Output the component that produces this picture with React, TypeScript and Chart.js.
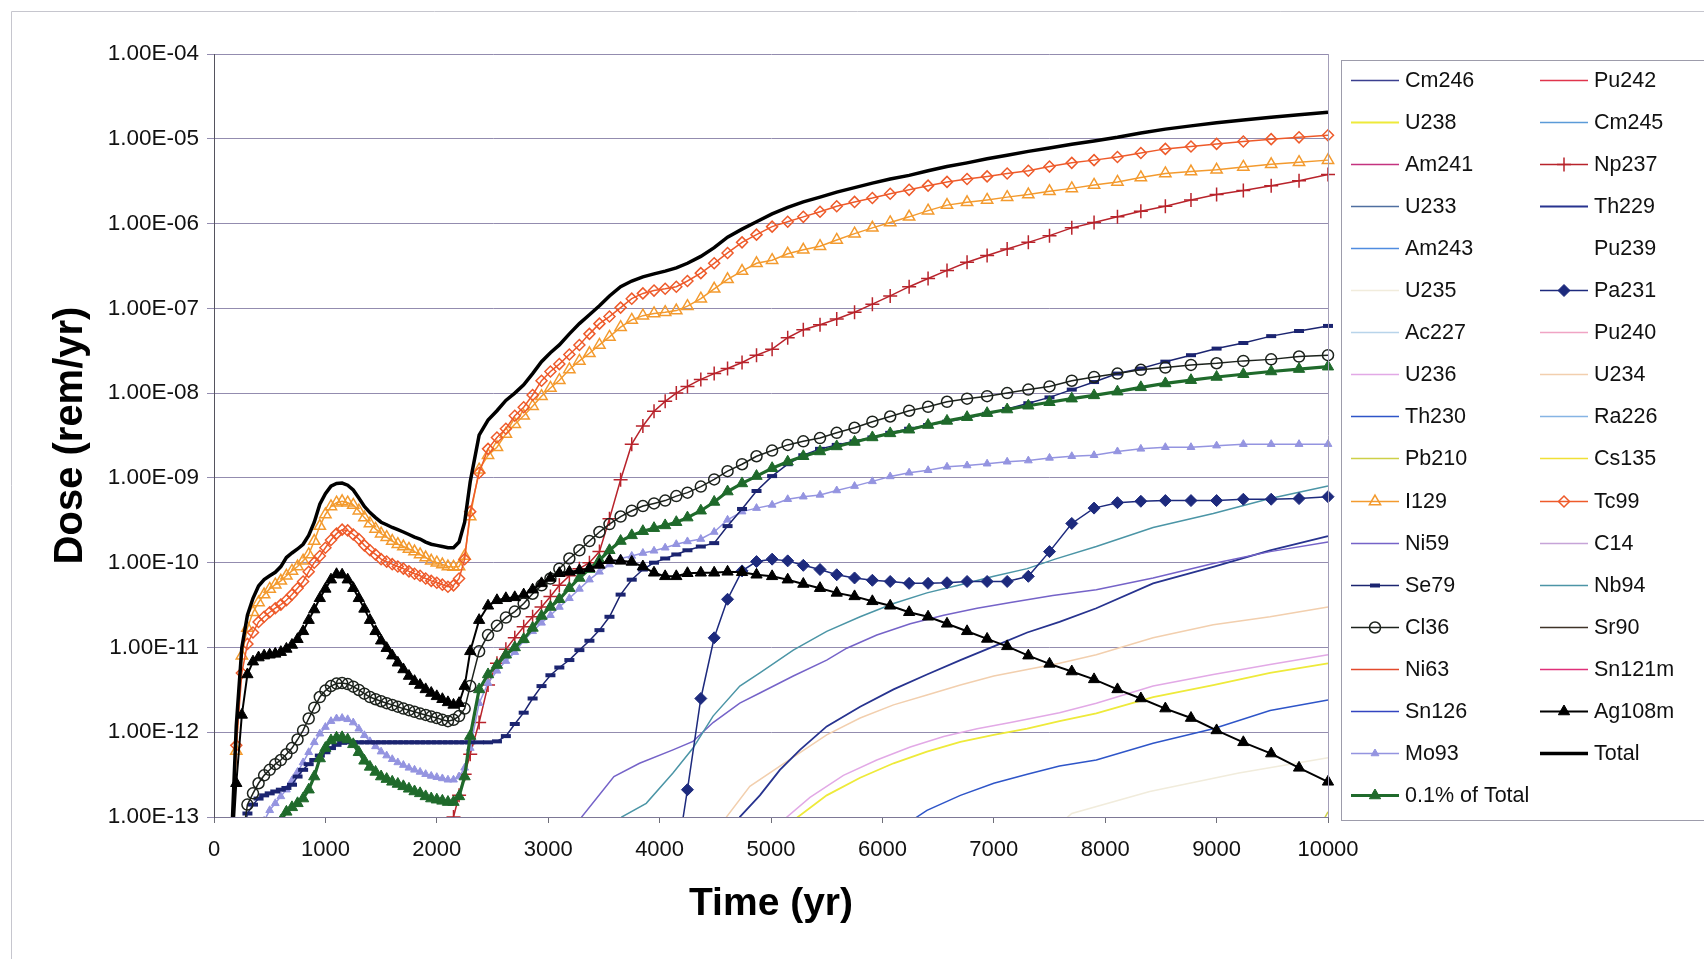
import React, { useEffect, useRef } from 'react';
import { Chart, registerables } from 'chart.js';

Chart.register(...registerables);

const FONT = '"Liberation Sans", Arial, Helvetica, sans-serif';

// ---------------- data ----------------
// shared time grid (yr) for the series drawn with markers
const TIME = [
  100, 150, 200, 250, 300, 350, 400, 450, 500, 550,
  600, 650, 700, 750, 800, 850, 900, 950, 1000, 1050,
  1100, 1150, 1200, 1250, 1300, 1350, 1400, 1450, 1500, 1550,
  1600, 1650, 1700, 1750, 1800, 1850, 1900, 1950, 2000, 2050,
  2100, 2150, 2200, 2250, 2300,
  2380, 2460, 2540, 2620, 2700, 2780, 2860, 2940, 3020, 3100,
  3190, 3280, 3370, 3460, 3550, 3650, 3750, 3850, 3950, 4050,
  4150, 4250, 4370, 4490, 4610, 4740, 4870, 5010, 5150, 5290,
  5440, 5590, 5750, 5910, 6070, 6240, 6410, 6580, 6760, 6940,
  7120, 7310, 7500, 7700, 7900, 8110, 8320, 8540, 8770, 9000,
  9240, 9490, 9740, 10000,
];

const none = (n: number) => Array(n).fill(null);

const TOTAL = [
  1e-15, 3e-14, 1.2e-12, 1e-11, 2.4e-11, 3.8e-11, 5.3e-11, 6.3e-11, 7e-11, 7.7e-11,
  9e-11, 1.15e-10, 1.3e-10, 1.45e-10, 1.65e-10, 2.1e-10, 3e-10, 4.9e-10, 6.5e-10, 8e-10,
  8.6e-10, 8.7e-10, 8.2e-10, 7.2e-10, 5.8e-10, 4.6e-10, 3.9e-10, 3.4e-10, 3e-10, 2.8e-10,
  2.6e-10, 2.45e-10, 2.3e-10, 2.15e-10, 2e-10, 1.9e-10, 1.75e-10, 1.65e-10, 1.6e-10, 1.55e-10,
  1.5e-10, 1.5e-10, 1.75e-10, 3e-10, 9e-10,
  3.2e-9, 4.8e-9, 6.2e-9, 8.2e-9, 1e-8, 1.25e-8, 1.7e-8, 2.35e-8, 3e-8, 3.7e-8,
  5e-8, 6.6e-8, 8.4e-8, 1.07e-7, 1.4e-7, 1.8e-7, 2.1e-7, 2.35e-7, 2.55e-7, 2.75e-7,
  3e-7, 3.4e-7, 4.1e-7, 5.2e-7, 6.9e-7, 8.6e-7, 1.05e-6, 1.3e-6, 1.55e-6, 1.8e-6,
  2.05e-6, 2.35e-6, 2.65e-6, 3e-6, 3.35e-6, 3.7e-6, 4.2e-6, 4.7e-6, 5.2e-6, 5.8e-6,
  6.4e-6, 7.1e-6, 7.8e-6, 8.6e-6, 9.4e-6, 1.04e-5, 1.17e-5, 1.3e-5, 1.42e-5, 1.55e-5,
  1.67e-5, 1.8e-5, 1.92e-5, 2.05e-5,
];

const TOTAL_PCT = [
  null, null, 1.2e-15, 1e-14, 2.4e-14, 3.8e-14, 5.3e-14, 6.3e-14, 7e-14, 7.7e-14,
  9e-14, 1.15e-13, 1.3e-13, 1.45e-13, 1.65e-13, 2.1e-13, 3e-13, 4.9e-13, 6.5e-13, 8e-13,
  8.6e-13, 8.7e-13, 8.2e-13, 7.2e-13, 5.8e-13, 4.6e-13, 3.9e-13, 3.4e-13, 3e-13, 2.8e-13,
  2.6e-13, 2.45e-13, 2.3e-13, 2.15e-13, 2e-13, 1.9e-13, 1.75e-13, 1.65e-13, 1.6e-13, 1.55e-13,
  1.5e-13, 1.5e-13, 1.75e-13, 3e-13, 9e-13,
  3.2e-12, 4.8e-12, 6.2e-12, 8.2e-12, 1e-11, 1.25e-11, 1.7e-11, 2.35e-11, 3e-11, 3.7e-11,
  5e-11, 6.6e-11, 8.4e-11, 1.07e-10, 1.4e-10, 1.8e-10, 2.1e-10, 2.35e-10, 2.55e-10, 2.75e-10,
  3e-10, 3.4e-10, 4.1e-10, 5.2e-10, 6.9e-10, 8.6e-10, 1.05e-9, 1.3e-9, 1.55e-9, 1.8e-9,
  2.05e-9, 2.35e-9, 2.65e-9, 3e-9, 3.35e-9, 3.7e-9, 4.2e-9, 4.7e-9, 5.2e-9, 5.8e-9,
  6.4e-9, 7.1e-9, 7.8e-9, 8.6e-9, 9.4e-9, 1.04e-8, 1.17e-8, 1.3e-8, 1.42e-8, 1.55e-8,
  1.67e-8, 1.8e-8, 1.92e-8, 2.05e-8,
];

const TC99 = [
  null, 2e-14, 7e-13, 5e-12, 1.1e-11, 1.5e-11, 2e-11, 2.3e-11, 2.6e-11, 2.9e-11,
  3.2e-11, 3.6e-11, 4.2e-11, 5e-11, 6e-11, 7.8e-11, 1e-10, 1.2e-10, 1.5e-10, 1.85e-10,
  2.2e-10, 2.45e-10, 2.4e-10, 2.15e-10, 1.9e-10, 1.6e-10, 1.4e-10, 1.25e-10, 1.1e-10, 1.03e-10,
  9.6e-11, 9e-11, 8.5e-11, 7.9e-11, 7.4e-11, 7e-11, 6.5e-11, 6.1e-11, 5.8e-11, 5.5e-11,
  5.2e-11, 5.4e-11, 6.5e-11, 1.1e-10, 4e-10,
  1.15e-9, 2.2e-9, 3e-9, 3.8e-9, 5.4e-9, 6.8e-9, 9.5e-9, 1.4e-8, 1.8e-8, 2.2e-8,
  2.85e-8, 3.7e-8, 5e-8, 6.6e-8, 8e-8, 1.02e-7, 1.3e-7, 1.5e-7, 1.62e-7, 1.7e-7,
  1.8e-7, 2.1e-7, 2.6e-7, 3.4e-7, 4.5e-7, 6e-7, 7.4e-7, 9.2e-7, 1.05e-6, 1.2e-6,
  1.38e-6, 1.6e-6, 1.8e-6, 2e-6, 2.25e-6, 2.5e-6, 2.8e-6, 3.1e-6, 3.35e-6, 3.6e-6,
  3.9e-6, 4.2e-6, 4.7e-6, 5.2e-6, 5.6e-6, 6.1e-6, 6.8e-6, 7.6e-6, 8.1e-6, 8.7e-6,
  9.3e-6, 9.9e-6, 1.04e-5, 1.1e-5,
];

const I129 = [
  null, 1e-14, 6e-13, 8e-12, 1.7e-11, 2.6e-11, 3.4e-11, 4.2e-11, 4.9e-11, 5.5e-11,
  6.1e-11, 7e-11, 8e-11, 9e-11, 1.05e-10, 1.25e-10, 1.8e-10, 2.7e-10, 3.7e-10, 4.6e-10,
  5.1e-10, 5.3e-10, 5.1e-10, 4.8e-10, 4.1e-10, 3.4e-10, 2.9e-10, 2.5e-10, 2.2e-10, 2e-10,
  1.8e-10, 1.65e-10, 1.55e-10, 1.45e-10, 1.35e-10, 1.25e-10, 1.15e-10, 1.05e-10, 1e-10, 9.5e-11,
  9e-11, 8.9e-11, 9e-11, 1.2e-10, 3.5e-10,
  1.25e-9, 1.85e-9, 2.3e-9, 3.3e-9, 4.3e-9, 5.4e-9, 7e-9, 9.2e-9, 1.15e-8, 1.42e-8,
  1.9e-8, 2.4e-8, 2.95e-8, 3.7e-8, 4.6e-8, 6e-8, 7.3e-8, 8.2e-8, 8.7e-8, 9e-8,
  9.4e-8, 1.06e-7, 1.3e-7, 1.7e-7, 2.2e-7, 2.75e-7, 3.4e-7, 3.7e-7, 4.4e-7, 4.9e-7,
  5.4e-7, 6.4e-7, 7.6e-7, 8.9e-7, 1.03e-6, 1.2e-6, 1.42e-6, 1.65e-6, 1.78e-6, 1.9e-6,
  2.05e-6, 2.2e-6, 2.4e-6, 2.6e-6, 2.85e-6, 3.1e-6, 3.5e-6, 3.9e-6, 4.1e-6, 4.3e-6,
  4.65e-6, 5e-6, 5.3e-6, 5.6e-6,
];

const NP237 = [
  ...none(40),
  3e-14, 1e-13, 1.8e-13, 3.2e-13, 5.5e-13,
  1.3e-12, 3.6e-12, 6.5e-12, 9.5e-12, 1.3e-11, 1.75e-11, 2.3e-11, 3e-11, 4e-11, 5.4e-11,
  7e-11, 8.5e-11, 1e-10, 1.35e-10, 3.3e-10, 9.5e-10, 2.5e-9, 4.1e-9, 6.1e-9, 8e-9,
  1e-8, 1.2e-8, 1.45e-8, 1.7e-8, 1.95e-8, 2.3e-8, 2.8e-8, 3.3e-8, 4.5e-8, 5.6e-8,
  6.4e-8, 7.5e-8, 9e-8, 1.12e-7, 1.4e-7, 1.8e-7, 2.25e-7, 2.8e-7, 3.5e-7, 4.2e-7,
  5e-7, 6e-7, 7.2e-7, 8.9e-7, 1.03e-6, 1.2e-6, 1.4e-6, 1.6e-6, 1.9e-6, 2.2e-6,
  2.45e-6, 2.8e-6, 3.2e-6, 3.8e-6,
];

const SE79 = [
  null, null, null, 5e-14, 1.1e-13, 1.4e-13, 1.65e-13, 1.8e-13, 1.9e-13, 2e-13,
  2.1e-13, 2.2e-13, 2.4e-13, 3e-13, 3.6e-13, 4.2e-13, 4.7e-13, 5.3e-13, 5.8e-13, 6.5e-13,
  7.1e-13, 7.5e-13, 7.6e-13, 7.6e-13, 7.6e-13, 7.6e-13, 7.6e-13, 7.6e-13, 7.6e-13, 7.6e-13,
  7.6e-13, 7.6e-13, 7.6e-13, 7.6e-13, 7.6e-13, 7.6e-13, 7.6e-13, 7.6e-13, 7.6e-13, 7.6e-13,
  7.6e-13, 7.6e-13, 7.6e-13, 7.6e-13, 7.6e-13,
  7.6e-13, 7.6e-13, 7.8e-13, 9e-13, 1.25e-12, 1.7e-12, 2.5e-12, 3.5e-12, 4.7e-12, 5.8e-12,
  7.1e-12, 9.3e-12, 1.2e-11, 1.6e-11, 2.3e-11, 4.2e-11, 6.3e-11, 8.3e-11, 1e-10, 1.12e-10,
  1.25e-10, 1.4e-10, 1.55e-10, 1.7e-10, 2.7e-10, 4.3e-10, 7e-10, 1.05e-9, 1.45e-9, 1.85e-9,
  2.2e-9, 2.45e-9, 2.7e-9, 3e-9, 3.4e-9, 3.8e-9, 4.2e-9, 4.6e-9, 5.1e-9, 5.7e-9,
  6.5e-9, 7.6e-9, 8.9e-9, 1.1e-8, 1.35e-8, 1.7e-8, 1.95e-8, 2.35e-8, 2.8e-8, 3.35e-8,
  3.9e-8, 4.7e-8, 5.4e-8, 6.2e-8,
];

const CL36 = [
  null, null, null, 5e-14, 1.4e-13, 1.9e-13, 2.5e-13, 3.1e-13, 3.6e-13, 4.2e-13,
  4.7e-13, 5.5e-13, 6.5e-13, 8.2e-13, 1.05e-12, 1.45e-12, 1.95e-12, 2.6e-12, 3.1e-12, 3.5e-12,
  3.75e-12, 3.8e-12, 3.7e-12, 3.45e-12, 3.15e-12, 2.85e-12, 2.6e-12, 2.45e-12, 2.32e-12, 2.2e-12,
  2.1e-12, 2e-12, 1.9e-12, 1.82e-12, 1.74e-12, 1.66e-12, 1.6e-12, 1.53e-12, 1.47e-12, 1.4e-12,
  1.35e-12, 1.4e-12, 1.55e-12, 1.9e-12, 3.5e-12,
  9e-12, 1.4e-11, 1.8e-11, 2.25e-11, 2.65e-11, 3.3e-11, 4.3e-11, 5.4e-11, 6.5e-11, 8.5e-11,
  1.12e-10, 1.4e-10, 1.8e-10, 2.3e-10, 2.85e-10, 3.5e-10, 4.1e-10, 4.65e-10, 5e-10, 5.4e-10,
  6.1e-10, 6.7e-10, 7.9e-10, 9.6e-10, 1.2e-9, 1.45e-9, 1.8e-9, 2.1e-9, 2.45e-9, 2.7e-9,
  2.95e-9, 3.4e-9, 3.9e-9, 4.6e-9, 5.3e-9, 6.2e-9, 6.9e-9, 7.9e-9, 8.6e-9, 9.2e-9,
  1e-8, 1.1e-8, 1.2e-8, 1.4e-8, 1.55e-8, 1.7e-8, 1.88e-8, 2e-8, 2.15e-8, 2.25e-8,
  2.4e-8, 2.5e-8, 2.7e-8, 2.8e-8,
];

const AG108M = [
  null, 2e-14, 2.5e-13, 1.6e-12, 4.8e-12, 6.8e-12, 7.6e-12, 8e-12, 8.2e-12, 8.4e-12,
  8.8e-12, 9.6e-12, 1.07e-11, 1.25e-11, 1.55e-11, 2.1e-11, 2.8e-11, 3.8e-11, 4.9e-11, 6.3e-11,
  7.3e-11, 7.2e-11, 6.3e-11, 5e-11, 3.8e-11, 2.85e-11, 2.1e-11, 1.55e-11, 1.2e-11, 9.8e-12,
  8e-12, 6.6e-12, 5.5e-12, 4.6e-12, 4e-12, 3.6e-12, 3.2e-12, 2.9e-12, 2.65e-12, 2.45e-12,
  2.25e-12, 2.1e-12, 2.2e-12, 3.5e-12, 9e-12,
  2.1e-11, 3.1e-11, 3.6e-11, 3.8e-11, 3.9e-11, 4.2e-11, 4.8e-11, 5.7e-11, 6.6e-11, 7.5e-11,
  7.8e-11, 8.1e-11, 8.6e-11, 9.4e-11, 1.07e-10, 1.05e-10, 1.02e-10, 9e-11, 7.6e-11, 6.9e-11,
  6.9e-11, 7.5e-11, 7.6e-11, 7.6e-11, 7.8e-11, 7.7e-11, 7.2e-11, 6.9e-11, 6.3e-11, 5.6e-11,
  5e-11, 4.4e-11, 4e-11, 3.5e-11, 3.1e-11, 2.6e-11, 2.3e-11, 1.9e-11, 1.55e-11, 1.26e-11,
  1.03e-11, 8e-12, 6.4e-12, 5.2e-12, 4.2e-12, 3.2e-12, 2.5e-12, 1.9e-12, 1.47e-12, 1.05e-12,
  7.6e-13, 5.6e-13, 3.8e-13, 2.6e-13,
];

const MO93 = [
  null, null, null, null, null, null, 6.5e-14, 9e-14, 1.2e-13, 1.45e-13,
  1.75e-13, 2.1e-13, 2.7e-13, 3.4e-13, 4.4e-13, 5.8e-13, 7.6e-13, 9.6e-13, 1.15e-12, 1.35e-12,
  1.45e-12, 1.47e-12, 1.42e-12, 1.3e-12, 1.1e-12, 9.2e-13, 7.8e-13, 6.8e-13, 5.9e-13, 5.3e-13,
  4.8e-13, 4.4e-13, 4.1e-13, 3.8e-13, 3.6e-13, 3.4e-13, 3.2e-13, 3.05e-13, 2.95e-13, 2.85e-13,
  2.75e-13, 2.75e-13, 3e-13, 3.8e-13, 6.5e-13,
  2.2e-12, 3.8e-12, 5.3e-12, 6.9e-12, 8.8e-12, 1.2e-11, 1.55e-11, 1.95e-11, 2.4e-11, 3e-11,
  3.8e-11, 4.9e-11, 6.3e-11, 7.8e-11, 9.5e-11, 1.12e-10, 1.2e-10, 1.3e-10, 1.38e-10, 1.5e-10,
  1.65e-10, 1.78e-10, 1.9e-10, 2.3e-10, 3.2e-10, 4e-10, 4.4e-10, 4.8e-10, 5.6e-10, 6e-10,
  6.3e-10, 7.1e-10, 8e-10, 9.1e-10, 1.04e-9, 1.15e-9, 1.23e-9, 1.35e-9, 1.4e-9, 1.47e-9,
  1.55e-9, 1.6e-9, 1.72e-9, 1.8e-9, 1.85e-9, 2.05e-9, 2.2e-9, 2.3e-9, 2.3e-9, 2.4e-9,
  2.5e-9, 2.5e-9, 2.5e-9, 2.5e-9,
];

const PA231 = [
  ...none(65),
  3e-14, 2.1e-13, 2.5e-12, 1.3e-11, 3.7e-11, 8e-11, 1.03e-10, 1.1e-10, 1.05e-10, 9.3e-11,
  8.3e-11, 7.2e-11, 6.6e-11, 6.2e-11, 6e-11, 5.7e-11, 5.7e-11, 5.8e-11, 6e-11, 6e-11,
  6e-11, 6.9e-11, 1.35e-10, 2.9e-10, 4.4e-10, 5.1e-10, 5.3e-10, 5.4e-10, 5.4e-10, 5.4e-10,
  5.6e-10, 5.6e-10, 5.7e-10, 6e-10,
];

// thin unmarked series: [time, dose] pairs
const NI59_PTS = [[3250, 5e-14], [3300, 1e-13], [3440, 1.7e-13], [3590, 3e-13], [3820, 4.3e-13], [4120, 6.2e-13], [4300, 7.8e-13], [4480, 1.3e-12], [4720, 2.2e-12], [4900, 2.9e-12], [5200, 4.6e-12], [5500, 7.1e-12], [5680, 9.8e-12], [5950, 1.4e-11], [6250, 1.9e-11], [6550, 2.4e-11], [6850, 2.9e-11], [7150, 3.4e-11], [7530, 4.1e-11], [7920, 4.8e-11], [8430, 6.6e-11], [8970, 9.8e-11], [9480, 1.35e-10], [10000, 1.75e-10]];
const NB94_PTS = [[3600, 5e-14], [3660, 1e-13], [3880, 1.45e-13], [4120, 3.3e-13], [4300, 6.5e-13], [4480, 1.55e-12], [4720, 3.5e-12], [4900, 5e-12], [5200, 9.3e-12], [5500, 1.55e-11], [5800, 2.3e-11], [6100, 3.3e-11], [6400, 4.4e-11], [6700, 5.5e-11], [7000, 6.9e-11], [7300, 8.5e-11], [7550, 1.1e-10], [7920, 1.55e-10], [8430, 2.6e-10], [8970, 3.8e-10], [9480, 5.7e-10], [10000, 8e-10]];
const TH229_PTS = [[4650, 5e-14], [4720, 1e-13], [4900, 1.8e-13], [5080, 3.6e-13], [5260, 6.2e-13], [5500, 1.17e-12], [5800, 2e-12], [6100, 3.2e-12], [6400, 4.8e-12], [6700, 7.1e-12], [7000, 1.03e-11], [7300, 1.5e-11], [7590, 2e-11], [7920, 2.9e-11], [8430, 5.7e-11], [8970, 8.9e-11], [9480, 1.4e-10], [10000, 2.05e-10]];
const U234_PTS = [[4550, 5e-14], [4600, 1e-13], [4810, 2.3e-13], [5200, 5.1e-13], [5500, 9.3e-13], [5800, 1.47e-12], [6100, 2.1e-12], [6400, 2.75e-12], [6700, 3.6e-12], [7000, 4.6e-12], [7300, 5.5e-12], [7590, 6.5e-12], [7920, 8.2e-12], [8430, 1.3e-11], [8970, 1.85e-11], [9480, 2.3e-11], [10000, 3e-11]];
const U236_PTS = [[5000, 5e-14], [5080, 8.5e-14], [5350, 1.7e-13], [5650, 3.1e-13], [5950, 4.7e-13], [6250, 6.7e-13], [6550, 8.9e-13], [6850, 1.1e-12], [7150, 1.3e-12], [7590, 1.7e-12], [7920, 2.2e-12], [8430, 3.5e-12], [8970, 4.8e-12], [9480, 6.3e-12], [10000, 8.2e-12]];
const U238_PTS = [[5100, 5e-14], [5170, 8.5e-14], [5500, 1.8e-13], [5800, 2.9e-13], [6100, 4.3e-13], [6400, 5.9e-13], [6700, 7.7e-13], [7000, 9.3e-13], [7300, 1.1e-12], [7590, 1.35e-12], [7920, 1.67e-12], [8430, 2.6e-12], [8970, 3.6e-12], [9480, 5e-12], [10000, 6.5e-12]];
const TH230_PTS = [[6150, 5e-14], [6230, 8.5e-14], [6400, 1.2e-13], [6700, 1.8e-13], [7000, 2.5e-13], [7300, 3.2e-13], [7590, 4e-13], [7920, 4.7e-13], [8430, 7.4e-13], [8970, 1.1e-12], [9480, 1.8e-12], [10000, 2.4e-12]];
const U235_PTS = [[7400, 5e-14], [7700, 1.1e-13], [8400, 2e-13], [9200, 3.3e-13], [10000, 5e-13]];
const PB210_PTS = [[9850, 5e-14], [10000, 1.15e-13]];

const Y_TICK_VALUES = [1e-13, 1e-12, 1e-11, 1e-10, 1e-9, 1e-8, 1e-7, 1e-6, 1e-5, 1e-4];
const Y_TICK_LABELS = ['1.00E-13', '1.00E-12', '1.00E-11', '1.00E-10', '1.00E-09', '1.00E-08', '1.00E-07', '1.00E-06', '1.00E-05', '1.00E-04'];
const X_TICK_VALUES = [0, 1000, 2000, 3000, 4000, 5000, 6000, 7000, 8000, 9000, 10000];
const X_TICK_LABELS = ['0', '1000', '2000', '3000', '4000', '5000', '6000', '7000', '8000', '9000', '10000'];

const LEGEND_ORDER = [
  'Cm246', 'Pu242', 'U238', 'Cm245', 'Am241', 'Np237', 'U233', 'Th229', 'Am243', 'Pu239',
  'U235', 'Pa231', 'Ac227', 'Pu240', 'U236', 'U234', 'Th230', 'Ra226', 'Pb210', 'Cs135',
  'I129', 'Tc99', 'Ni59', 'C14', 'Se79', 'Nb94', 'Cl36', 'Sr90', 'Ni63', 'Sn121m',
  'Sn126', 'Ag108m', 'Mo93', 'Total', '0.1% of Total',
];

// ---------------- helpers ----------------
const CLIP = { left: 10, top: 10, right: 10, bottom: 0 };
const CLEAR = 'rgba(0,0,0,0)';

const onGrid = (vals: (number | null)[]) => TIME.map((t, i) => ({ x: t, y: vals[i] ?? null }));
const fromPts = (pts: number[][]) => pts.map(([x, y]) => ({ x, y }));

function lineDs(label: string, color: string, data: any[], width = 1.5) {
  return {
    label, data, borderColor: color, backgroundColor: color, borderWidth: width,
    pointRadius: 0, pointHoverRadius: 0, pointStyle: 'circle', tension: 0, clip: CLIP,
    mk: null,
  };
}

function markDs(label: string, color: string, vals: (number | null)[], style: string, r: number, filled: boolean, width = 1.5, pbw = 1.5) {
  return {
    label, data: onGrid(vals), borderColor: color, backgroundColor: filled ? color : CLEAR,
    borderWidth: width, pointStyle: style, pointRadius: r, pointHoverRadius: r,
    pointBorderColor: color, pointBackgroundColor: filled ? color : CLEAR, pointBorderWidth: pbw,
    tension: 0, clip: CLIP, spanGaps: false,
    mk: { style, r, filled, pbw },
  };
}

function drawMarker(ctx: CanvasRenderingContext2D, mk: any, color: string, x: number, y: number) {
  const r = mk.r;
  ctx.save();
  ctx.lineWidth = mk.pbw;
  ctx.strokeStyle = color;
  ctx.fillStyle = color;
  ctx.beginPath();
  if (mk.style === 'circle') {
    ctx.arc(x, y, r, 0, Math.PI * 2);
  } else if (mk.style === 'triangle') {
    ctx.moveTo(x, y - r);
    ctx.lineTo(x + r * 0.866, y + r * 0.5);
    ctx.lineTo(x - r * 0.866, y + r * 0.5);
    ctx.closePath();
  } else if (mk.style === 'rectRot') {
    ctx.moveTo(x - r, y);
    ctx.lineTo(x, y - r);
    ctx.lineTo(x + r, y);
    ctx.lineTo(x, y + r);
    ctx.closePath();
  } else if (mk.style === 'cross') {
    ctx.moveTo(x - r, y); ctx.lineTo(x + r, y);
    ctx.moveTo(x, y - r); ctx.lineTo(x, y + r);
  } else if (mk.style === 'line') {
    ctx.moveTo(x - r, y); ctx.lineTo(x + r, y);
  }
  if (mk.filled && mk.style !== 'cross' && mk.style !== 'line') ctx.fill();
  ctx.stroke();
  ctx.restore();
}

const framePlugin = {
  id: 'frameAndLegend',
  afterDraw(chart: any) {
    const { ctx, chartArea } = chart;
    ctx.save();
    // right edge of plot area
    const rx = Math.round(chartArea.right) + 0.5;
    ctx.strokeStyle = '#a39eb8';
    ctx.lineWidth = 1;
    ctx.beginPath();
    ctx.moveTo(rx, chartArea.top);
    ctx.lineTo(rx, chartArea.bottom);
    ctx.stroke();
    // outer frame
    ctx.strokeStyle = '#c6c6ce';
    ctx.beginPath();
    ctx.moveTo(11.5, 959);
    ctx.lineTo(11.5, 11.5);
    ctx.lineTo(1704, 11.5);
    ctx.stroke();
    // legend box
    ctx.strokeStyle = '#9d9cab';
    ctx.strokeRect(1341.5, 60.5, 400, 760);
    // legend entries
    ctx.font = `21.5px ${FONT}`;
    ctx.textBaseline = 'middle';
    ctx.textAlign = 'left';
    LEGEND_ORDER.forEach((name, i) => {
      const ds = chart.data.datasets.find((d: any) => d.label === name);
      if (!ds) return;
      const col = i % 2;
      const row = Math.floor(i / 2);
      const x0 = col === 0 ? 1351 : 1540;
      const x1 = x0 + 48;
      const y = Math.round(79.5 + row * 42.1) + 0.5;
      ctx.strokeStyle = ds.borderColor;
      ctx.lineWidth = ds.borderWidth;
      ctx.beginPath();
      ctx.moveTo(x0, y);
      ctx.lineTo(x1, y);
      ctx.stroke();
      if (ds.mk) drawMarker(ctx, ds.mk, ds.borderColor, (x0 + x1) / 2, y);
      ctx.fillStyle = '#111';
      ctx.fillText(name, x1 + 6, y + 1);
    });
    ctx.restore();
  },
};

function buildDatasets() {
  return [
    lineDs('Total', '#000000', onGrid(TOTAL), 3.5),
    markDs('Ag108m', '#000000', AG108M, 'triangle', 6.5, true, 2, 1),
    markDs('Pa231', '#1d2a7d', PA231, 'rectRot', 6, true, 1.5, 1),
    markDs('Cl36', '#1c221c', CL36, 'circle', 5.5, false, 1.5, 1.5),
    markDs('0.1% of Total', '#1f6a2b', TOTAL_PCT, 'triangle', 6.5, true, 3.2, 1),
    markDs('Se79', '#1b2470', SE79, 'line', 5, false, 1.5, 4),
    markDs('Mo93', '#9494e0', MO93, 'triangle', 4.5, true, 1.5, 1),
    markDs('Np237', '#b8232b', NP237, 'cross', 7, false, 1.5, 1.5),
    markDs('Tc99', '#ee5a2a', TC99, 'rectRot', 5.5, false, 1.5, 1.5),
    markDs('I129', '#f39a2e', I129, 'triangle', 6.5, false, 1.5, 1.5),
    lineDs('Nb94', '#4b95a6', fromPts(NB94_PTS)),
    lineDs('Ni59', '#7563c8', fromPts(NI59_PTS)),
    lineDs('Th229', '#27338f', fromPts(TH229_PTS), 1.8),
    lineDs('U234', '#f2cfae', fromPts(U234_PTS)),
    lineDs('U236', '#e2a9e6', fromPts(U236_PTS)),
    lineDs('U238', '#eeea3a', fromPts(U238_PTS), 1.8),
    lineDs('Th230', '#2e55c8', fromPts(TH230_PTS)),
    lineDs('U235', '#f1ecdc', fromPts(U235_PTS)),
    lineDs('Pb210', '#cdd048', fromPts(PB210_PTS)),
    lineDs('Cm246', '#3b3f8f', []),
    lineDs('Pu242', '#e0344c', []),
    lineDs('Cm245', '#5b9bd8', []),
    lineDs('Am241', '#c4337f', []),
    lineDs('U233', '#4f6fa0', []),
    lineDs('Am243', '#4f8ce0', []),
    lineDs('Pu239', '#ffffff', []),
    lineDs('Ac227', '#b8d4ea', []),
    lineDs('Pu240', '#f0a4c4', []),
    lineDs('Ra226', '#86b4e4', []),
    lineDs('Cs135', '#f0e036', []),
    lineDs('C14', '#c6a4d8', []),
    lineDs('Sr90', '#3f3328', []),
    lineDs('Ni63', '#e34a2c', []),
    lineDs('Sn121m', '#e0307a', []),
    lineDs('Sn126', '#3344c0', []),
  ];
}

export default function App() {
  const ref = useRef<HTMLCanvasElement | null>(null);

  useEffect(() => {
    if (!ref.current) return;
    const chart = new Chart(ref.current, {
      type: 'line',
      data: { datasets: buildDatasets() as any },
      options: {
        responsive: false,
        maintainAspectRatio: false,
        animation: false,
        events: [],
        layout: { padding: { left: 0, top: 54, right: 376, bottom: 0 } },
        plugins: {
          legend: { display: false },
          tooltip: { enabled: false },
        },
        scales: {
          x: {
            type: 'linear',
            min: 0,
            max: 10000,
            afterBuildTicks: (s: any) => { s.ticks = X_TICK_VALUES.map((v) => ({ value: v })); },
            afterFit: (s: any) => { s.height = 142; },
            ticks: {
              autoSkip: false,
              maxRotation: 0,
              padding: 14,
              color: '#111',
              font: { family: FONT, size: 22 },
              callback: (_v: any, i: number) => X_TICK_LABELS[i],
            },
            grid: { drawOnChartArea: false, drawTicks: true, tickLength: 6, color: '#6e6e78' },
            border: { display: true, color: '#7d7896', width: 1 },
            title: {
              display: true,
              text: 'Time (yr)',
              color: '#000',
              font: { family: FONT, size: 39, weight: 'bold' },
              padding: { top: 0, bottom: 31 },
            },
          },
          y: {
            type: 'logarithmic',
            min: 1e-13,
            max: 1e-4,
            afterBuildTicks: (s: any) => { s.ticks = Y_TICK_VALUES.map((v) => ({ value: v })); },
            afterFit: (s: any) => { s.width = 214; },
            ticks: {
              autoSkip: false,
              padding: 8,
              color: '#111',
              font: { family: FONT, size: 22.5 },
              callback: (_v: any, i: number) => Y_TICK_LABELS[i],
            },
            grid: { color: '#938caf', lineWidth: 1, drawTicks: true, tickLength: 7 },
            border: { display: true, color: '#55535e', width: 1 },
            title: {
              display: true,
              text: 'Dose (rem/yr)',
              color: '#000',
              font: { family: FONT, size: 40, weight: 'bold' },
              padding: { top: 47, bottom: 0 },
            },
          },
        },
      } as any,
      plugins: [framePlugin],
    });
    return () => chart.destroy();
  }, []);

  return (
    <div style={{ position: 'absolute', left: 0, top: 0, width: 1704, height: 959, background: '#ffffff' }}>
      <canvas ref={ref} width={1704} height={959} style={{ display: 'block', width: 1704, height: 959 }} />
    </div>
  );
}
